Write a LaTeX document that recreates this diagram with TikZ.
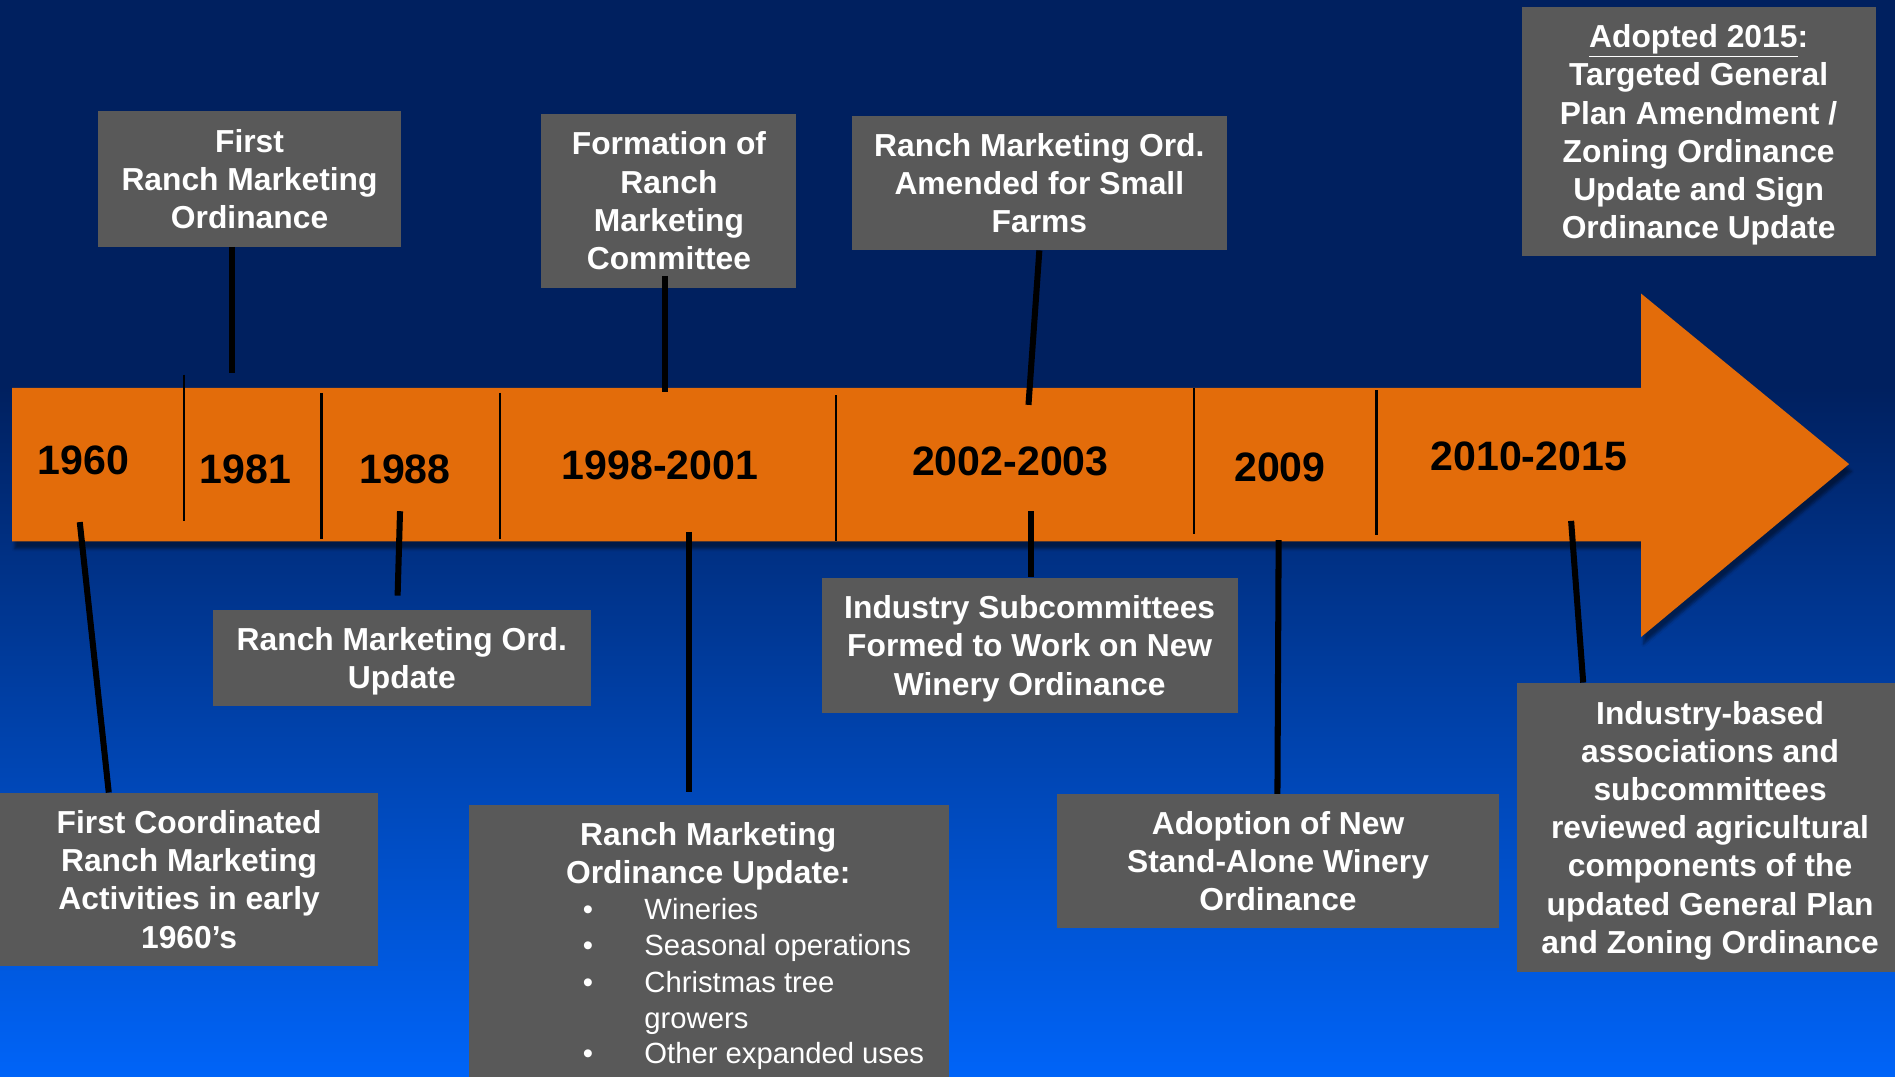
\documentclass[tikz,border=0pt]{standalone}
\usepackage{fontspec}
\setmainfont{Liberation Sans}
\usetikzlibrary{shadows.blur}
\definecolor{navy}{HTML}{00205F}
\definecolor{brightblue}{HTML}{0064F8}
\definecolor{arroworange}{HTML}{E36C0A}
\definecolor{boxgray}{HTML}{595959}
\tikzset{
  box/.style={fill=boxgray, text=white, font=\bfseries\fontsize{26.3}{31.6}\selectfont, align=center, inner sep=0pt, text depth=0pt},
  year/.style={text=black, font=\bfseries\fontsize{34}{40}\selectfont, inner sep=0pt},
  conn/.style={draw=black, line width=5pt},
  divider/.style={draw=black, line width=1.8pt},
  bul/.style={text=white, font=\fontsize{24.2}{29}\selectfont, inner sep=0pt, anchor=base west}
}
\begin{document}
\begin{tikzpicture}[x=1pt,y=-1pt]
\useasboundingbox (0,0) rectangle (1568,891);
% background
\fill[navy] (0,0) rectangle (1568,322);
\shade[top color=navy, bottom color=brightblue] (0,320) rectangle (1568,891);
% arrow
\fill[arroworange, blur shadow={shadow xshift=2pt, shadow yshift=-6pt, shadow opacity=45}]
  (10,321) -- (1358,321) -- (1358,243) -- (1530,384) -- (1358,527) -- (1358,448) -- (10,448) -- cycle;
% dividers
\draw[divider] (152,310) -- (152,431);
\draw[divider] (266,325) -- (266,446);
\draw[divider] (414,325) -- (414,446);
\draw[divider] (692,327) -- (692,448);
\draw[divider] (988,321) -- (988,442);
\draw[divider] (1139,323) -- (1139,443);
% years
\node[year] (y1960) at (69,381) {1960};
\node[year] (y1981) at (203,388) {1981};
\node[year] (y1988) at (335,388) {1988};
\node[year] (y1998) at (546,385) {1998-2001};
\node[year] (y2002) at (836,382) {2002-2003};
\node[year] (y2009) at (1059,387) {2009};
\node[year] (y2010) at (1265,378) {2010-2015};
% boxes above
\node[box, minimum width=251, minimum height=112] (b1) at (206.5,148) {First\\Ranch Marketing\\Ordinance};
\node[box, minimum width=211, minimum height=144] (b2) at (553.5,166) {Formation of\\Ranch\\Marketing\\Committee};
\node[box, minimum width=310, minimum height=111] (b3) at (860,151.5) {Ranch Marketing Ord.\\Amended for Small\\Farms};
\node[box, minimum width=293, minimum height=206] (b4) at (1405.5,109) {\underline{Adopted 2015}:\\Targeted General\\Plan Amendment /\\Zoning Ordinance\\Update and Sign\\Ordinance Update};
% boxes below
\node[box, minimum width=313, minimum height=79] (b5) at (332.5,544.5) {Ranch Marketing Ord.\\Update};
\node[box, minimum width=344, minimum height=112] (b6) at (852,534) {Industry Subcommittees\\Formed to Work on New\\Winery Ordinance};
\node[box, minimum width=313, minimum height=143] (b7) at (156.5,727.5) {First Coordinated\\Ranch Marketing\\Activities in early\\1960’s};
\node[box, minimum width=397, minimum height=240, anchor=north west] (b8) at (388,666) {};
\node[box, fill=none, anchor=north] (b8t) at (586,680) {Ranch Marketing\\Ordinance Update:};
\node[bul] (w1) at (533,761) {Wineries};
\node[bul] (w2) at (533,791) {Seasonal operations};
\node[bul] (w3) at (533,821) {Christmas tree};
\node[bul] (w3b) at (533,851) {growers};
\node[bul] (w4) at (533,880) {Other expanded uses};
\node[bul] (d1) at (482,761) {•};
\node[bul] (d2) at (482,791) {•};
\node[bul] (d3) at (482,821) {•};
\node[bul] (d4) at (482,880) {•};
\node[box, minimum width=365, minimum height=111] (b9) at (1057.5,712.5) {Adoption of New\\Stand-Alone Winery\\Ordinance};
\node[box, minimum width=320, minimum height=239] (b10) at (1415,684.5) {Industry-based\\associations and\\subcommittees\\reviewed agricultural\\components of the\\updated General Plan\\and Zoning Ordinance};
% connector end points on the arrow
\coordinate (k1) at (192,309);
\coordinate (k2) at (550,324);
\coordinate (k3) at (851,335);
\coordinate (k7) at (66,432);
\coordinate (k7x) at (90,0);
\coordinate (k5) at (331,423);
\coordinate (k5x) at (329,0);
\coordinate (k8) at (570,440);
\coordinate (k6) at (853,423);
\coordinate (k9) at (1058,447);
\coordinate (k9x) at (1057,0);
\coordinate (k10) at (1300,431);
\coordinate (k10x) at (1310,0);
% connectors
\draw[conn] (b1.south -| k1) -- (k1);
\draw[conn] ([yshift=10pt]b2.south -| k2) -- (k2);
\draw[conn] (b3.south) -- (k3);
\draw[conn] (k7) -- (b7.north -| k7x);
\draw[conn] (k5) -- ([yshift=12pt]b5.north -| k5x);
\draw[conn] (k8) -- ([yshift=11pt]b8.north -| k8);
\draw[conn] (k6) -- (b6.north -| k6);
\draw[conn] (k9) -- (b9.north -| k9x);
\draw[conn] (k10) -- (b10.north -| k10x);
\end{tikzpicture}
\end{document}
